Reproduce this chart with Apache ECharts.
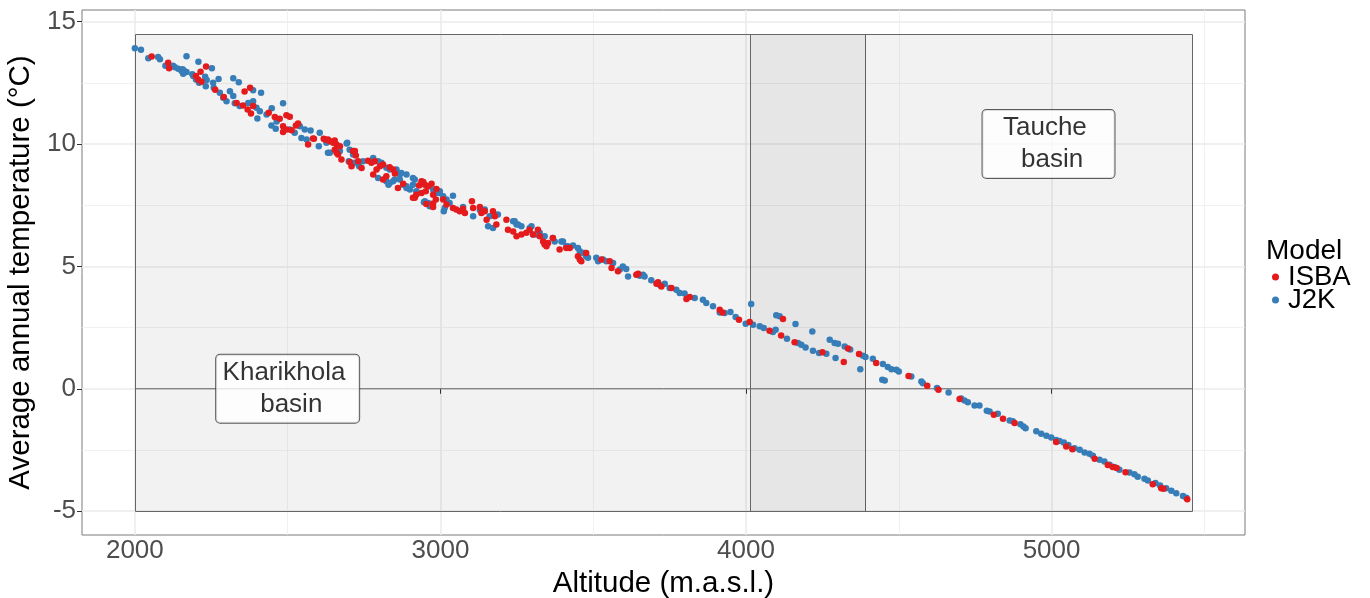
<!DOCTYPE html>
<html>
<head>
<meta charset="utf-8">
<script src="https://cdn.jsdelivr.net/npm/echarts@6/dist/echarts.min.js"></script>
<style>
html,body{margin:0;padding:0;background:#fff;}
#chart{width:1370px;height:598px;}
</style>
</head>
<body>
<div id="chart"></div>
<script>
// ---- data (altitude m.a.s.l., average annual temperature °C) ----
const j2kPoints = [
[2000,13.91],[2020,13.85],[2044,13.5],[2076,13.55],[2082,13.46],[2100,13.2],[2125,13.2],[2131,13.14],[2142,13.07],[2153,12.98],[2158,12.87],[2160,13.0],[2169,12.94],[2156,13.05],[2169,13.59],[2208,13.36],[2252,13.1],[2188,12.85],[2191,12.78],[2200,12.64],[2210,12.5],[2230,12.75],[2235,12.61],[2232,12.36],[2256,12.5],[2258,12.3],[2274,12.66],[2322,12.69],[2340,12.52],[2387,12.2],[2413,12.09],[2278,12.09],[2289,11.89],[2311,12.16],[2322,11.96],[2300,11.75],[2327,11.66],[2343,11.55],[2371,11.68],[2387,11.75],[2398,11.48],[2409,11.34],[2401,11.04],[2431,11.21],[2448,11.46],[2485,11.67],[2464,10.92],[2447,10.76],[2461,10.62],[2507,10.59],[2523,10.46],[2540,10.73],[2556,10.59],[2545,10.25],[2562,10.18],[2575,10.55],[2605,10.46],[2627,10.05],[2632,9.64],[2602,9.91],[2695,10.05],[2703,9.77],[2700,9.3],[2720,9.23],[2734,9.09],[2780,9.43],[2796,9.3],[2807,9.16],[2823,9.03],[2856,8.96],[2872,8.82],[2889,8.75],[2910,8.61],[2830,8.34],[2845,8.48],[2889,8.27],[2900,8.14],[2921,8.07],[2910,8.34],[2998,8.0],[3009,7.87],[3041,7.89],[3030,7.59],[3014,7.39],[2946,7.62],[2965,7.46],
[2638,9.64],[2671,9.71],[2693,10.02],[2714,9.57],[2709,9.23],[2747,9.3],[2807,9.23],[2796,8.61],[2823,8.48],[2834,8.96],[2856,8.89],[2867,8.75],[2834,8.41],[2850,8.55],[2867,8.55],[2878,8.34],[2889,8.2],[2916,8.55],[2949,7.66],[2960,7.59],[2976,8.14],[2987,8.0],[2998,8.07],[3020,7.73],[3011,7.25],[3074,7.43],[3107,7.05],[3129,7.3],[3145,7.32],[3161,7.05],[3172,7.12],[3188,7.12],[3156,6.64],[3172,6.57],[3238,6.84],[3249,6.71],[3265,6.64],[3292,6.57],[3303,6.3],[3325,6.37],[3368,6.16],[3401,6.02],[3417,5.82],[3434,5.85],[3450,5.75],[3467,5.55],[3477,5.41],[3510,5.35],[3516,5.21],[3532,5.28],[3543,5.21],[3565,5.14],[3597,5.0],[3608,4.89],[3614,4.59],
[3243,6.84],[3254,6.71],[3298,6.64],[3314,6.3],[3341,6.23],[3374,6.02],[3396,6.02],[3412,5.82],[3456,5.62],[3472,5.55],[3483,5.35],[3587,4.87],[3652,4.62],[3663,4.66],[3668,4.59],[3690,4.43],[3717,4.25],[3734,4.29],[3750,4.12],[3772,4.05],[3783,3.91],[3799,3.89],[3832,3.71],[3859,3.64],[3870,3.5],[3892,3.37],[3914,3.12],[3930,3.1],[3949,3.14],[3966,2.93],[3999,2.66],[4017,3.46],[4023,2.62],[4045,2.55],[4058,2.48],
[4088,2.32],[4097,2.41],[4099,3.0],[4110,2.96],[4134,2.04],[4162,2.65],[4170,1.87],[4181,1.8],[4195,1.69],[4217,2.34],[4219,1.55],[4239,1.46],[4263,1.43],[4274,2.0],[4290,1.87],[4301,1.84],[4293,1.26],[4323,1.73],[4341,1.6],[4374,0.8],[4383,1.35],[4391,1.3],[4415,1.23],[4448,1.01],[4446,0.37],[4454,0.34],[4464,0.89],[4476,0.8],[4492,0.78],[4500,0.71],[4541,0.5],[4574,0.3],[4579,0.23],[4625,0.03],[4663,-0.15],[4704,-0.4],[4715,-0.48],[4726,-0.55],[4748,-0.68],[4764,-0.68],
[4788,-0.9],[4797,-0.93],[4824,-1.02],[4863,-1.3],[4873,-1.33],[4898,-1.45],[4908,-1.54],[4915,-1.61],[4950,-1.74],[4966,-1.84],[4983,-1.92],[4999,-1.99],[5015,-2.09],[5026,-2.13],[5040,-2.2],[5055,-2.3],[5075,-2.43],[5092,-2.49],[5108,-2.6],[5124,-2.66],[5135,-2.74],[5157,-2.9],[5173,-2.97],[5190,-3.1],[5205,-3.2],[5222,-3.31],[5255,-3.42],[5271,-3.49],[5282,-3.59],[5304,-3.68],[5315,-3.75],[5340,-3.85],[5355,-3.95],[5375,-4.06],[5392,-4.17],[5408,-4.27],[5430,-4.38],[5441,-4.45]
];
const isbaPoints = [
[2055,13.58],[2109,13.32],[2112,13.1],[2233,13.17],[2215,12.95],[2200,12.78],[2207,12.64],[2218,12.54],[2263,12.22],[2377,12.3],[2359,12.15],[2291,11.92],[2333,11.68],[2354,11.57],[2369,11.41],[2380,11.25],[2387,11.55],[2438,11.28],[2458,11.1],[2474,11.03],[2496,11.17],[2507,11.11],[2485,10.73],[2496,10.59],[2485,10.49],[2513,10.56],[2527,10.76],[2534,10.84],[2567,9.98],[2586,10.21],[2618,10.21],[2632,10.18],[2654,10.14],[2660,9.98],[2654,9.77],[2665,9.57],[2676,9.37],[2671,9.91],[2714,9.71],[2723,9.53],[2709,9.09],[2742,9.02],[2763,9.32],[2785,9.3],[2812,9.16],[2834,9.05],[2845,8.96],[2791,8.96],[2780,8.75],[2812,8.55],[2823,8.68],[2851,8.79],[2878,8.38],[2861,8.2],[2938,8.48],[2949,8.34],[2960,8.27],[2971,8.38],[2987,8.16],[2938,8.0],[2921,7.93],[2916,7.8],[2952,8.07],[2976,7.93],[2985,7.73],[2954,7.55],[2976,7.57],
[2583,10.22],[2622,10.18],[2638,10.11],[2649,10.05],[2660,9.64],[2703,9.26],[2720,9.71],[2731,9.3],[2774,9.23],[2802,9.09],[2910,7.8],[2930,8.3],[2944,8.45],[2976,7.43],[3009,7.73],[3020,7.53],[3041,7.39],[3052,7.32],[3063,7.25],[3074,7.35],[3080,7.18],[3103,7.66],[3107,7.39],[3129,7.43],[3134,7.18],[3145,7.25],[3151,6.91],[3172,7.25],[3178,7.05],[3183,6.71],[3216,6.91],[3221,6.5],[3238,6.43],[3249,6.23],[3265,6.3],[3281,6.37],[3292,6.5],[3303,6.3],[3319,6.5],[3325,6.23],[3336,6.02],[3341,5.89],[3352,5.96],[3347,5.82],[3368,6.16],[3390,5.69],[3412,5.75],[3423,5.75],[3450,5.41],[3456,5.28],[3461,5.21],[3477,5.55],[3527,5.28],[3554,5.21],[3560,4.93],[3581,4.8],[3641,4.66],[3647,4.7],
[3707,4.29],[3712,4.35],[3723,4.18],[3756,4.12],[3805,3.67],[3816,3.75],[3914,3.23],[3923,3.12],[3977,2.82],[4012,2.73],[4077,2.37],[4115,2.18],[4121,2.85],[4159,1.9],
[4250,1.49],[4320,1.09],[4334,1.64],[4370,1.42],[4426,1.05],[4532,0.52],[4593,0.12],[4630,-0.04],[4699,-0.42],
[4811,-1.06],[4841,-1.23],[4879,-1.4],[5015,-2.18],[5048,-2.36],[5068,-2.47],[5141,-2.86],[5184,-3.11],[5200,-3.2],[5213,-3.24],[5242,-3.41],[5331,-3.9],[5359,-4.06],[5366,-4.09],[5444,-4.51]
];
const xTicks = [2000, 3000, 4000, 5000];
const xMinor = [2500, 3500, 4500, 5500];
const yTicks = [-5, 0, 5, 10, 15];
const yMinor = [-2.5, 2.5, 7.5, 12.5];
const xRange = [1827, 5633];
const yRange = [-5.975, 15.475];
// basin rectangles: [xStart, xEnd, yStart, yEnd]
const basinRects = [
  [2000, 4390, -5, 14.5],
  [4013, 5460, -5, 14.5]
];
const zeroLine = [[2000, 0], [5460, 0]];
const basinLabels = [
  {name: 'Kharikhola \n basin', value: [2500, 0]},
  {name: 'Tauche \n basin', value: [4990, 10]}
];
const labelWidths = [131, 120];
const modelNames = ['ISBA', 'J2K'];
const modelColors = ['#E41A1C', '#377EB8'];

// ---- chart ----
const FONT = '"Liberation Sans", Arial, Helvetica, sans-serif';
const chart = echarts.init(document.getElementById('chart'), null, {renderer: 'canvas'});

const gridLines = [];
xTicks.forEach(v => gridLines.push({xAxis: v, lineStyle: {color: '#ebebeb', width: 1.6, type: 'solid'}}));
yTicks.forEach(v => gridLines.push({yAxis: v, lineStyle: {color: '#ebebeb', width: 1.6, type: 'solid'}}));
xMinor.forEach(v => gridLines.push({xAxis: v, lineStyle: {color: '#ededed', width: 0.8, type: 'solid'}}));
yMinor.forEach(v => gridLines.push({yAxis: v, lineStyle: {color: '#ededed', width: 0.8, type: 'solid'}}));

chart.setOption({
  animation: false,
  textStyle: {fontFamily: FONT},
  title: {
    text: 'Model', left: 1261, top: 232,
    textStyle: {fontSize: 28, fontWeight: 'normal', color: '#000', fontFamily: FONT}
  },
  legend: {
    data: modelNames.map(n => ({name: n, icon: 'circle'})),
    orient: 'vertical', left: 1272, top: 263,
    itemWidth: 7, itemHeight: 7, itemGap: -5, padding: 0,
    textStyle: {fontSize: 27.5, color: '#000', lineHeight: 23, fontFamily: FONT, padding: [0, 0, 0, 4]}
  },
  grid: {left: 82, top: 10, width: 1163, height: 525, show: true, borderColor: '#7a7a7a', borderWidth: 1,
         containLabel: false, outerBoundsMode: 'none'},
  xAxis: {
    type: 'value', min: xRange[0], max: xRange[1],
    name: 'Altitude (m.a.s.l.)', nameLocation: 'middle', nameGap: 25,
    nameTextStyle: {fontSize: 29.5, color: '#000', fontFamily: FONT},
    axisLine: {show: false},
    axisTick: {show: true, length: 5, lineStyle: {color: '#333'}, customValues: xTicks},
    axisLabel: {fontSize: 26, color: '#4d4d4d', margin: 3, customValues: xTicks, fontFamily: FONT,
                formatter: v => String(v)},
    splitLine: {show: false}
  },
  yAxis: {
    type: 'value', min: yRange[0], max: yRange[1],
    name: 'Average annual temperature (°C)', nameLocation: 'middle', nameGap: 38,
    nameTextStyle: {fontSize: 29.5, color: '#000', fontFamily: FONT},
    axisLine: {show: false},
    axisTick: {show: true, length: 5, lineStyle: {color: '#333'}, customValues: yTicks},
    axisLabel: {fontSize: 26, color: '#4d4d4d', margin: 6, customValues: yTicks, fontFamily: FONT,
                formatter: v => String(v)},
    splitLine: {show: false}
  },
  series: [
    {
      type: 'scatter', data: [], silent: true, z: 0,
      markLine: {silent: true, z: 0, symbol: ['none', 'none'], label: {show: false}, animation: false,
                 lineStyle: {type: 'solid'}, data: gridLines}
    },
    {
      type: 'custom', data: basinRects, silent: true, z: 1,
      encode: {x: [0, 1], y: [2, 3]},
      renderItem: (params, api) => {
        const p0 = api.coord([api.value(0), api.value(3)]);
        const p1 = api.coord([api.value(1), api.value(2)]);
        const x0 = Math.round(p0[0]) + 0.5, y0 = Math.round(p0[1]) + 0.5;
        const x1 = Math.round(p1[0]) + 0.5, y1 = Math.round(p1[1]) + 0.5;
        return {
          type: 'rect',
          shape: {x: x0, y: y0, width: x1 - x0, height: y1 - y0},
          style: {fill: 'rgba(0,0,0,0.05)', stroke: '#666', lineWidth: 1}
        };
      }
    },
    {
      type: 'line', data: zeroLine, silent: true, z: 1, showSymbol: false, symbol: 'none',
      lineStyle: {color: '#666', width: 1}
    },
    {
      name: 'J2K', type: 'scatter', data: j2kPoints, symbolSize: 6.5, z: 2,
      itemStyle: {color: modelColors[1], opacity: 1}
    },
    {
      name: 'ISBA', type: 'scatter', data: isbaPoints, symbolSize: 6.5, z: 3,
      itemStyle: {color: modelColors[0], opacity: 1}
    },
    {
      type: 'scatter', symbolSize: 0, z: 5, silent: true,
      data: basinLabels.map((d, i) => ({
        name: d.name, value: d.value,
        label: {width: labelWidths[i]}
      })),
      label: {
        show: true, position: 'inside', formatter: p => p.name,
        fontSize: 26, color: '#000', fontFamily: FONT, lineHeight: 32, align: 'center',
        backgroundColor: '#fff', borderColor: '#333', borderWidth: 1, borderRadius: 4,
        padding: [2, 6, 2, 6]
      }
    }
  ],
  color: modelColors
});
</script>
</body>
</html>
